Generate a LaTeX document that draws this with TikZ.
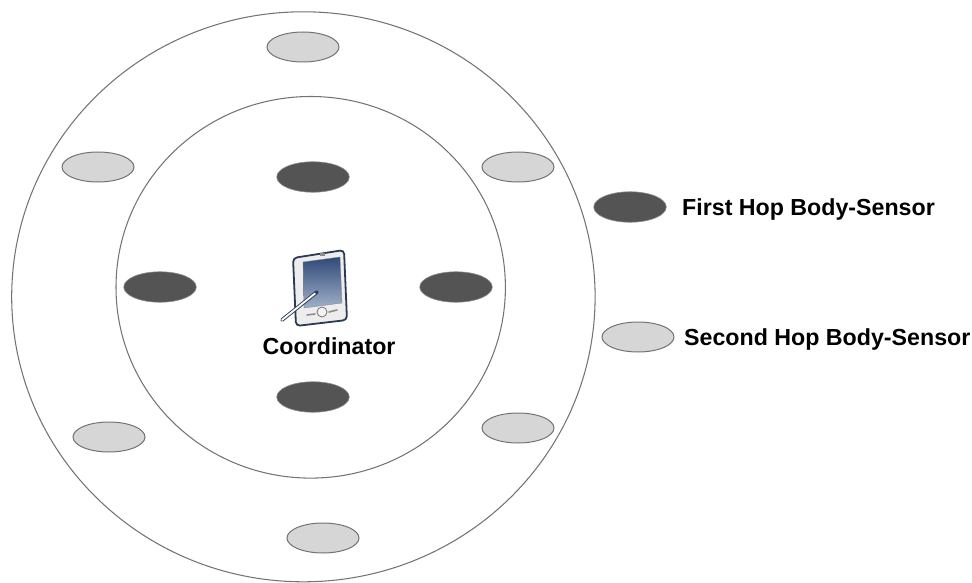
\documentclass[tikz,border=0pt]{standalone}
\usepackage{fontspec}
\usetikzlibrary{shapes.geometric}
\setmainfont{Liberation Sans}
\definecolor{navy}{HTML}{2B3A55}
\definecolor{scrtop}{HTML}{2F4A78}
\definecolor{scrbot}{HTML}{9FB0C8}
\begin{document}
\begin{tikzpicture}[x=1pt,y=-1pt,
 dark/.style={ellipse,draw=black!45,line width=0.6pt,fill=black!67,minimum width=72.5pt,minimum height=30.5pt,inner sep=0pt},
 light/.style={ellipse,draw=black!55,line width=1pt,fill=black!16,minimum width=72pt,minimum height=30pt,inner sep=0pt},
 ring/.style={draw=black!55,line width=1.05pt},
 lab/.style={font=\bfseries\fontsize{23.2}{27}\selectfont,text=black,inner sep=0pt,anchor=base west}]
\useasboundingbox (0,0) rectangle (972,583);
\path[ring] (303.4,296.8) ellipse (291.7 and 285);
\path[ring] (310.7,287.3) ellipse (194.7 and 190.8);
\node[light] (o1) at (303,47) {};
\node[light] (o2) at (98,167) {};
\node[light] (o3) at (518,167) {};
\node[light] (o4) at (109,437) {};
\node[light] (o5) at (518,428) {};
\node[light] (o6) at (323,538) {};
\node[dark] (i1) at (313,177) {};
\node[dark] (i2) at (160,287) {};
\node[dark] (i3) at (456,287) {};
\node[dark] (i4) at (313,397) {};
\node[dark] (k1) at (630,207) {};
\node[light] (k2) at (638,337) {};
\node[lab] (t1) at (682,215) {First Hop Body-Sensor};
\node[lab] (t2) at (684,345) {Second Hop Body-Sensor};
\node[lab] (t3) at (262.5,354.5) {Coordinator};
% device
\draw[line width=1.8pt,draw=navy,fill=black!7,rounded corners=4pt] (293,258)--(344,250)--(347,320)--(296,326)--cycle;
\fill[black!45] (320,253) rectangle (325,255.5);
\shade[top color=scrtop,bottom color=scrbot,draw=black!50,line width=0.3pt] (303,262)--(340,257)--(342,303)--(304,308)--cycle;
\draw[draw=black!60,fill=black!5,line width=0.7pt] (322,312) circle (5);
\draw[black!45,line width=1.6pt,line cap=round] (307,315)--(315,314) (329,312)--(337,310);
\draw[navy,line width=3.6pt,line cap=round] (282,320)--(317,292);
\draw[white,line width=1.8pt,line cap=round] (282,320)--(315,293.5);
\end{tikzpicture}
\end{document}
